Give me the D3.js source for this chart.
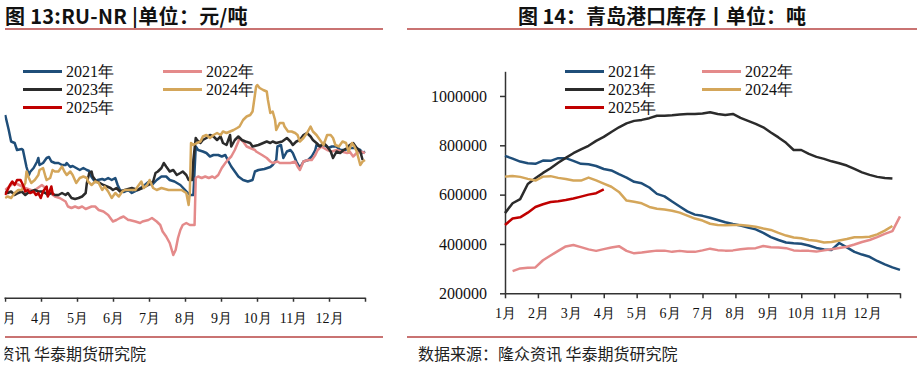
<!DOCTYPE html>
<html>
<head>
<meta charset="utf-8">
<script src="https://cdnjs.cloudflare.com/ajax/libs/d3/7.8.5/d3.min.js"></script>
<style>
  html, body { margin: 0; padding: 0; background: #fff; }
  svg { display: block; }
</style>
</head>
<body>
<div id="chart"></div>
<script>
(function () {
  'use strict';

  var years = ['2021年', '2022年', '2023年', '2024年', '2025年'];
  var colors = ['#1f4e79', '#e48a8a', '#2b2b2b', '#d4a65a', '#c00000'];
  var months = ['1月', '2月', '3月', '4月', '5月', '6月', '7月', '8月', '9月', '10月', '11月', '12月'];
  var stockTicks = [200000, 400000, 600000, 800000, 1000000];

  // RU-NR 价差，[day of year, 元/吨]
  var spread2021 = [[61,3660],[64,3360],[66,3130],[69,3100],[71,2960],[75,2980],[76,2960],[79,2620],[81,2460],[82,2520],
    [85,2600],[88,2730],[89,2800],[90,2660],[93,2700],[96,2800],[98,2820],[100,2730],[103,2700],[106,2700],[109,2660],
    [112,2660],[113,2700],[116,2620],[118,2640],[121,2600],[124,2560],[127,2600],[130,2560],[132,2540],[134,2420],
    [137,2320],[139,2360],[143,2380],[145,2360],[148,2400],[151,2360],[154,2400],[156,2260],[158,2160],[161,2120],
    [165,2160],[168,2100],[173,2160],[179,2260],[182,2320],[185,2260],[189,2360],[193,2430],[197,2430],[200,2360],
    [204,2330],[209,2260],[213,2160],[217,2060],[220,2060],[222,3030],[224,2960],[228,2930],[231,2900],[234,2830],
    [237,2860],[241,2860],[244,2830],[247,2860],[249,2760],[252,2630],[255,2530],[258,2430],[262,2360],[266,2330],
    [270,2360],[272,2530],[275,2560],[280,2580],[285,2620],[287,2660],[290,2760],[291,3030],[294,3060],[296,2800],
    [299,2930],[302,2960],[304,2900],[307,2730],[310,2600],[313,2730],[317,2760],[320,2830],[323,2960],[324,3060],
    [327,3030],[331,3060],[334,3000],[337,3030],[341,3030],[344,2960],[348,2960],[352,3000],[357,3000],[361,2960],
    [363,2900],[365,2930]];
  var spread2022 = [[61,2160],[68,2300],[71,2280],[78,2200],[85,2140],[92,2260],[95,2200],[99,2100],[103,2030],
    [107,2000],[112,1930],[114,1830],[117,1800],[120,1830],[123,1800],[126,1830],[129,1780],[131,1800],[134,1830],
    [137,1830],[140,1760],[144,1730],[148,1660],[152,1530],[155,1560],[158,1600],[161,1630],[165,1560],[166,1560],
    [171,1530],[175,1500],[177,1530],[182,1560],[185,1600],[189,1530],[192,1460],[194,1330],[197,1230],[200,1100],
    [203,860],[205,960],[207,1200],[209,1360],[211,1460],[214,1500],[217,1460],[221,1460],[222,2400],[224,2430],
    [227,2400],[230,2430],[233,2400],[236,2430],[238,2400],[241,2460],[244,2600],[247,2700],[249,2760],[252,2830],
    [255,2960],[258,3130],[259,3200],[262,3130],[265,3030],[268,3000],[272,2960],[273,2930],[278,2860],[282,2800],
    [285,2730],[287,2700],[291,2730],[293,2700],[297,2700],[302,2700],[306,2730],[308,2630],[310,2560],[313,2730],
    [317,2760],[320,2760],[323,2860],[325,2960],[328,3030],[333,2960],[337,2930],[341,2960],[345,2930],[350,2900],
    [352,2930],[355,2830],[358,2900],[361,2930],[365,2900]];
  var spread2023 = [[61,2130],[63,2100],[66,2130],[69,2060],[72,2100],[75,2130],[78,2060],[80,2100],[83,2130],
    [86,2160],[89,2130],[92,2130],[95,2100],[97,2060],[100,2100],[103,2060],[106,2060],[109,2100],[112,2060],
    [114,2100],[117,2000],[120,1980],[123,2000],[126,2030],[129,2100],[130,2300],[132,2500],[134,2530],[135,2430],
    [138,2330],[141,2300],[144,2260],[147,2230],[150,2200],[152,2160],[155,2200],[158,2130],[162,2160],[168,2200],
    [173,2160],[177,2200],[182,2260],[186,2330],[188,2500],[190,2530],[193,2600],[195,2700],[197,2630],[200,2530],
    [203,2560],[206,2460],[209,2500],[211,2530],[214,2460],[216,2360],[219,2360],[220,2760],[222,3200],[223,3160],
    [226,3100],[228,3160],[231,3200],[234,3260],[237,3230],[240,3160],[243,3230],[245,3100],[248,3060],[251,3260],
    [252,3030],[255,3160],[258,3230],[261,3160],[264,3130],[268,3100],[270,3030],[275,3060],[279,3100],[282,3130],
    [285,3100],[287,3130],[290,3100],[295,3130],[299,3200],[302,3130],[304,3060],[307,3130],[310,3160],[313,3260],
    [316,3300],[319,3230],[321,3160],[324,3100],[327,3030],[330,3100],[333,3030],[336,2930],[338,2800],[341,2930],
    [344,2900],[347,2960],[350,3000],[352,3060],[355,3100],[358,3000],[361,2930],[363,2760]];
  var spread2024 = [[61,2000],[63,2030],[66,2000],[69,2100],[72,2160],[75,2160],[78,2300],[79,2530],[81,2400],
    [83,2300],[86,2360],[89,2460],[90,2560],[93,2600],[95,2430],[96,2360],[99,2400],[101,2560],[103,2530],[106,2530],
    [109,2630],[111,2530],[113,2460],[116,2530],[118,2460],[121,2300],[124,2400],[127,2430],[130,2400],[131,2330],
    [134,2260],[137,2330],[140,2300],[143,2160],[145,2230],[148,2130],[151,2000],[154,2100],[157,2030],[160,2130],
    [162,2160],[167,2160],[171,2160],[173,2230],[176,2330],[178,2200],[181,2260],[183,2360],[186,2200],[189,2160],
    [193,2200],[199,2160],[204,2160],[210,2160],[214,2100],[216,1860],[217,2100],[218,3100],[220,3060],[223,3100],
    [226,3130],[228,3230],[231,3260],[234,3200],[237,3260],[240,3300],[243,3260],[245,3330],[248,3300],[251,3330],
    [254,3360],[257,3400],[259,3430],[262,3560],[265,3630],[268,3660],[270,3730],[273,4230],[274,4260],[276,4200],
    [279,4160],[282,4130],[283,3960],[285,3700],[287,3730],[289,3560],[290,3360],[293,3500],[296,3500],[297,3430],
    [300,3330],[303,3330],[306,3300],[308,3260],[310,3130],[313,3200],[316,3300],[319,3430],[321,3330],[324,3260],
    [327,3160],[330,3060],[333,3260],[336,3260],[338,3200],[340,3060],[343,3030],[346,3130],[349,3100],[351,2930],
    [354,3100],[356,3030],[358,2930],[361,2660],[363,2730],[365,2760]];
  var spread2025 = [[61,2060],[63,2160],[65,2260],[67,2330],[69,2260],[71,2360],[74,2360],[76,2260],[78,2130],
    [80,2160],[82,2100],[85,2130],[87,2060],[89,2100],[91,2000],[93,2130],[96,2230],[97,2030],[100,2230],[101,2100],
    [102,2060]];

  // 青岛港口库存，周度，吨
  var stock2021 = [757000, 746000, 734000, 727000, 725000, 738000, 737000, 748000, 748000, 737000, 725000, 723000,
    716000, 704000, 698000, 683000, 669000, 652000, 646000, 629000, 603000, 593000, 572000, 552000, 532000, 519000,
    514000, 506000, 497000, 488000, 481000, 475000, 467000, 459000, 445000, 428000, 416000, 406000, 403000, 401000,
    394000, 384000, 378000, 376000, 404000, 386000, 368000, 357000, 348000, 331000, 317000, 305000, 295000];
  var stock2022 = [null, 290000, 301000, 304000, 305000, 334000, 353000, 372000, 390000, 396000, 387000, 378000,
    372000, 379000, 386000, 391000, 372000, 362000, 365000, 369000, 373000, 373000, 368000, 372000, 368000, 368000,
    374000, 381000, 375000, 373000, 374000, 379000, 382000, 383000, 392000, 387000, 386000, 383000, 374000, 372000,
    372000, 369000, 374000, 379000, 384000, 389000, 398000, 408000, 416000, 428000, 441000, 452000, 512000];
  var stock2023 = [525000, 565000, 582000, 643000, 666000, 688000, 707000, 729000, 749000, 768000, 783000, 798000,
    818000, 834000, 854000, 873000, 889000, 899000, 903000, 910000, 920000, 920000, 922000, 925000, 927000, 927000,
    929000, 934000, 927000, 923000, 927000, 911000, 899000, 887000, 873000, 852000, 832000, 810000, 781000, 781000,
    765000, 753000, 745000, 735000, 727000, 718000, 704000, 690000, 680000, 672000, 667000, 665000];
  var stock2024 = [673000, 676000, 672000, 664000, 657000, 673000, 675000, 668000, 663000, 657000, 657000, 669000,
    658000, 645000, 632000, 611000, 576000, 571000, 565000, 550000, 543000, 540000, 535000, 527000, 515000, 503000,
    495000, 482000, 477000, 476000, 477000, 477000, 474000, 470000, 463000, 457000, 445000, 434000, 426000, 423000,
    416000, 413000, 406000, 408000, 414000, 420000, 427000, 427000, 429000, 439000, 454000, 473000];
  var stock2025 = [477000, 503000, 508000, 527000, 550000, 561000, 570000, 573000, 578000, 584000, 592000, 600000,
    606000, 621000];

  var spreadSeries = [spread2021, spread2022, spread2023, spread2024, spread2025];
  var stockSeries = [stock2021, stock2022, stock2023, stock2024, stock2025];

  var serif = "'Liberation Serif', 'Times New Roman', serif",
    cjk = "'Noto Sans CJK SC', 'Noto Sans', sans-serif",
    ruleColor = '#c97372',
    axisColor = '#333';

  var svg = d3.select('#chart')
    .append('svg')
    .attr('width', 924)
    .attr('height', 367);

  svg.append('defs').append('clipPath')
    .attr('id', 'leftClip')
    .append('rect')
    .attr('x', 4.5).attr('y', 0)
    .attr('width', 396).attr('height', 367);

  function frame(g, x0, x1) {
    [29, 337].forEach(function (y) {
      g.append('line')
        .attr('x1', x0).attr('x2', x1)
        .attr('y1', y).attr('y2', y)
        .attr('stroke', ruleColor)
        .attr('stroke-width', 2);
    });
  }

  function legend(g, left, colGap) {
    years.forEach(function (name, i) {
      var lx = left + (i % 2) * colGap,
        ly = 71.5 + Math.floor(i / 2) * 18;
      g.append('line')
        .attr('x1', lx).attr('x2', lx + 39)
        .attr('y1', ly).attr('y2', ly)
        .attr('stroke', colors[i])
        .attr('stroke-width', 3);
      g.append('text')
        .attr('x', lx + 43)
        .attr('y', ly + 5.5)
        .attr('font-family', serif)
        .attr('font-size', 16)
        .attr('fill', '#111')
        .text(name);
    });
  }

  function styleAxis(a, size) {
    a.selectAll('path, line')
      .attr('stroke', axisColor)
      .attr('stroke-width', 1.5);
    a.selectAll('text')
      .attr('font-family', serif)
      .attr('font-size', size)
      .attr('fill', '#111');
  }

  // ---- 图 13 RU-NR ----
  var left = svg.append('g').attr('clip-path', 'url(#leftClip)');

  left.append('text')
    .attr('x', 5).attr('y', 23.5)
    .attr('font-family', cjk)
    .attr('font-weight', 'bold')
    .attr('font-size', 20)
    .attr('letter-spacing', 0.3)
    .attr('fill', '#111')
    .text('图 13:RU-NR |单位：元/吨');

  frame(left, 5, 383);

  var x1 = d3.scaleLinear().domain([0, 12]).range([-67, 365]),
    y1 = d3.scaleLinear().domain([0, 5000]).range([298, 48]);

  // the chart is cropped at the left: Jan/Feb fall outside the picture
  left.append('g')
    .attr('transform', 'translate(0,297.7)')
    .call(d3.axisBottom(x1)
      .tickValues(d3.range(0, 13))
      .tickSize(4)
      .tickSizeOuter(0)
      .tickPadding(11)
      .tickFormat(function (d) { return d >= 2 && d < 12 ? months[d] : ''; }))
    .call(styleAxis, 14);

  var line1 = d3.line()
    .x(function (d) { return x1(d[0] / 365 * 12); })
    .y(function (d) { return y1(d[1]); });

  spreadSeries.forEach(function (s, i) {
    left.append('path')
      .datum(s)
      .attr('d', line1)
      .attr('fill', 'none')
      .attr('stroke', colors[i])
      .attr('stroke-width', 2.5)
      .attr('stroke-linejoin', 'round');
  });

  legend(left, 23, 140);

  left.append('text')
    .attr('x', 146).attr('y', 360)
    .attr('text-anchor', 'end')
    .attr('font-family', cjk)
    .attr('font-size', 16)
    .attr('fill', '#222')
    .text('数据来源：隆众资讯 华泰期货研究院');

  // ---- 图 14 青岛港口库存 ----
  var right = svg.append('g');

  right.append('text')
    .attr('x', 662).attr('y', 23.5)
    .attr('text-anchor', 'middle')
    .attr('font-family', cjk)
    .attr('font-weight', 'bold')
    .attr('font-size', 20)
    .attr('fill', '#111')
    .text('图 14：青岛港口库存丨单位：吨');

  frame(right, 407, 917);

  var x2 = d3.scaleLinear().domain([0, 12]).range([505, 900]),
    y2 = d3.scaleLinear().domain([200000, 1100000]).range([293.3, 71.3]);

  right.append('g')
    .attr('transform', 'translate(505,0)')
    .call(d3.axisLeft(y2)
      .tickValues(stockTicks)
      .tickSize(5)
      .tickSizeOuter(0)
      .tickPadding(13)
      .tickFormat(d3.format('d')))
    .call(styleAxis, 16);

  right.append('g')
    .attr('transform', 'translate(0,293.3)')
    .call(d3.axisBottom(x2)
      .tickValues(d3.range(0, 13))
      .tickSize(5)
      .tickSizeOuter(0)
      .tickPadding(10)
      .tickFormat(function (d) { return d < 12 ? months[d] : ''; }))
    .call(styleAxis, 14);

  var line2 = d3.line()
    .defined(function (d) { return d != null; })
    .x(function (d, i) { return x2(i * 12 / 52); })
    .y(function (d) { return y2(d); });

  stockSeries.forEach(function (s, i) {
    right.append('path')
      .datum(s)
      .attr('d', line2)
      .attr('fill', 'none')
      .attr('stroke', colors[i])
      .attr('stroke-width', 2.5)
      .attr('stroke-linejoin', 'round');
  });

  legend(right, 565, 137);

  right.append('text')
    .attr('x', 418).attr('y', 360)
    .attr('font-family', cjk)
    .attr('font-size', 16)
    .attr('fill', '#222')
    .text('数据来源：隆众资讯 华泰期货研究院');
}());
</script>
</body>
</html>
